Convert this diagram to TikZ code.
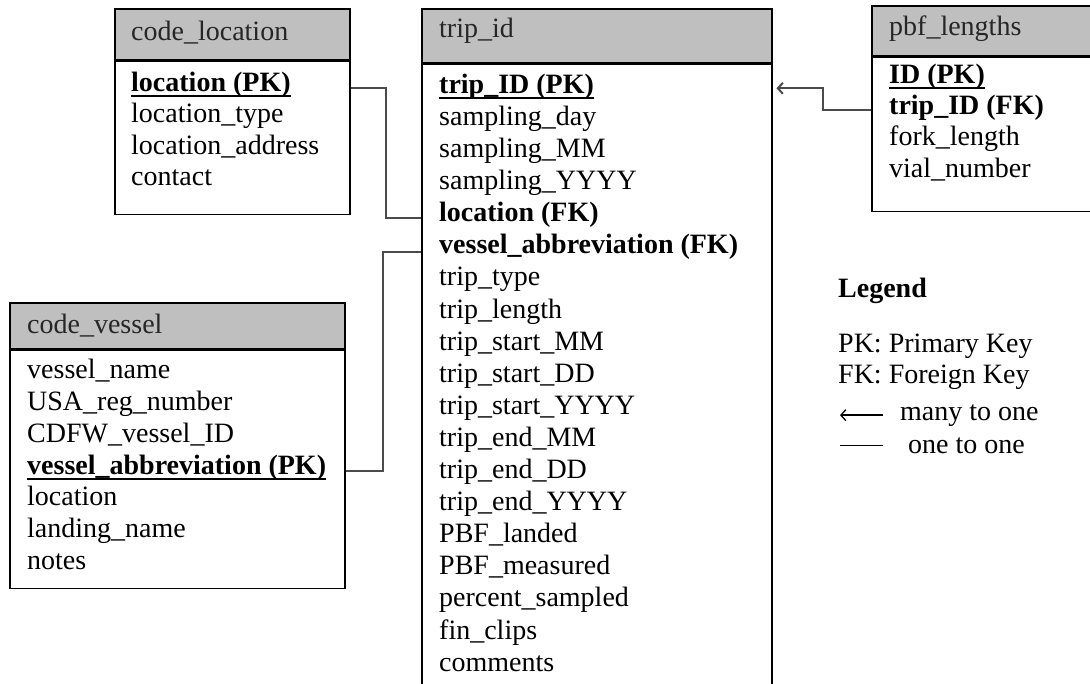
\documentclass[tikz,border=0pt]{standalone}
\usepackage{fontspec}
\setmainfont{Liberation Serif}
\usetikzlibrary{arrows.meta}
\definecolor{hdrgrey}{RGB}{191,191,191}
\definecolor{relgrey}{RGB}{75,75,75}
\newcommand{\pkfield}[1]{\setbox0\hbox{\textbf{#1}}\copy0\llap{\rule[-6pt]{\wd0}{2pt}}}

\begin{document}
\begin{tikzpicture}[x=1pt,y=-1pt,
		tab/.style={draw, line width=1.5pt, inner sep=0pt, anchor=north west},
		hdr/.style={tab, fill=hdrgrey},
		fld/.style={inner sep=0pt, anchor=base west, font=\fontsize{28}{32}\selectfont},
		ttl/.style={fld, text=black!85},
		rel/.style={draw=relgrey, line width=2pt},
		many/.style={rel, -{Straight Barb[length=5pt,width=11pt]}}]
		\useasboundingbox (0,0) rectangle (1090,683);
		\clip (0,0) rectangle (1090,683);
		\node[hdr, minimum width=235pt, minimum height=51pt] (cl-h) at (114,8) {};
		\node[tab, minimum width=235pt, minimum height=153pt] (cl-b) at (cl-h.south west) {};
		\node[ttl] (cl-t) at (131,40) {code\_location};
		\foreach \f [count=\i] in {{\pkfield{location (PK)}}, location\_type, location\_address, contact}
			\node[fld] (cl\i) at (131,{91+31.6*(\i-1)}) {\f};
		\node[hdr, minimum width=350pt, minimum height=54pt] (tr-h) at (421,8) {};
		\node[tab, minimum width=350pt, minimum height=640pt] (tr-b) at (tr-h.south west) {};
		\node[ttl] (tr-t) at (439,37) {trip\_id};
		\foreach \f [count=\i] in {{\pkfield{trip\_ID (PK)}}, sampling\_day, sampling\_MM, sampling\_YYYY,
			{\textbf{location (FK)}}, {\textbf{vessel\_abbreviation (FK)}}, trip\_type, trip\_length,
			trip\_start\_MM, trip\_start\_DD, trip\_start\_YYYY, trip\_end\_MM, trip\_end\_DD, trip\_end\_YYYY,
			PBF\_landed, PBF\_measured, percent\_sampled, fin\_clips, comments}
			\node[fld] (tr\i) at (439,{93.3+32.1*(\i-1)}) {\f};
		\node[hdr, minimum width=222pt, minimum height=50pt] (pb-h) at (871,5) {};
		\node[tab, minimum width=222pt, minimum height=154pt] (pb-b) at (pb-h.south west) {};
		\node[ttl] (pb-t) at (889,35) {pbf\_lengths};
		\foreach \f [count=\i] in {{\pkfield{ID (PK)}}, {\textbf{trip\_ID (FK)}}, fork\_length, vial\_number}
			\node[fld] (pb\i) at (889,{83.3+31.3*(\i-1)}) {\f};
		\node[hdr, minimum width=335pt, minimum height=46pt] (cv-h) at (9,302) {};
		\node[tab, minimum width=335pt, minimum height=238pt] (cv-b) at (cv-h.south west) {};
		\node[ttl] (cv-t) at (27,333) {code\_vessel};
		\foreach \f [count=\i] in {vessel\_name, USA\_reg\_number, CDFW\_vessel\_ID, {\pkfield{vessel\_abbreviation (PK)}},
			location, landing\_name, notes}
			\node[fld] (cv\i) at (27,{378.3+31.9*(\i-1)}) {\f};
		\draw[rel] ([yshift=3pt]cl-b.east |- cl1.base) -- ++(35,0) |- ([yshift=3.4pt]tr-b.west |- tr5.base);
		\draw[rel] ([yshift=3.3pt]cv-b.east |- cv4.base) -- ++(37.7,0) |- ([yshift=1.5pt]tr-b.west |- tr6.base);
		\draw[many, shorten >=4pt] ([yshift=4.6pt]pb-b.west |- pb2.base) -- ++(-48,0) |- ([yshift=5pt]tr-b.east |- tr1.base);
		\node[fld] (lg) at (838,297) {\textbf{Legend}};
		\node[fld] (lg-pk) at (838,352) {PK: Primary Key};
		\node[fld] (lg-fk) at (838,383) {FK: Foreign Key};
		\node[fld] (lg-m) at (900,420) {many to one};
		\node[fld] (lg-o) at (908,453) {one to one};
		\draw[many, draw=black, line width=1.3pt] ([xshift=-17pt]lg-m.west) -- ++(-43,0);
		\draw[rel, draw=black, line width=1.3pt] ([xshift=-25pt]lg-o.west) -- ++(-43,0);
	\end{tikzpicture}
\end{document}
